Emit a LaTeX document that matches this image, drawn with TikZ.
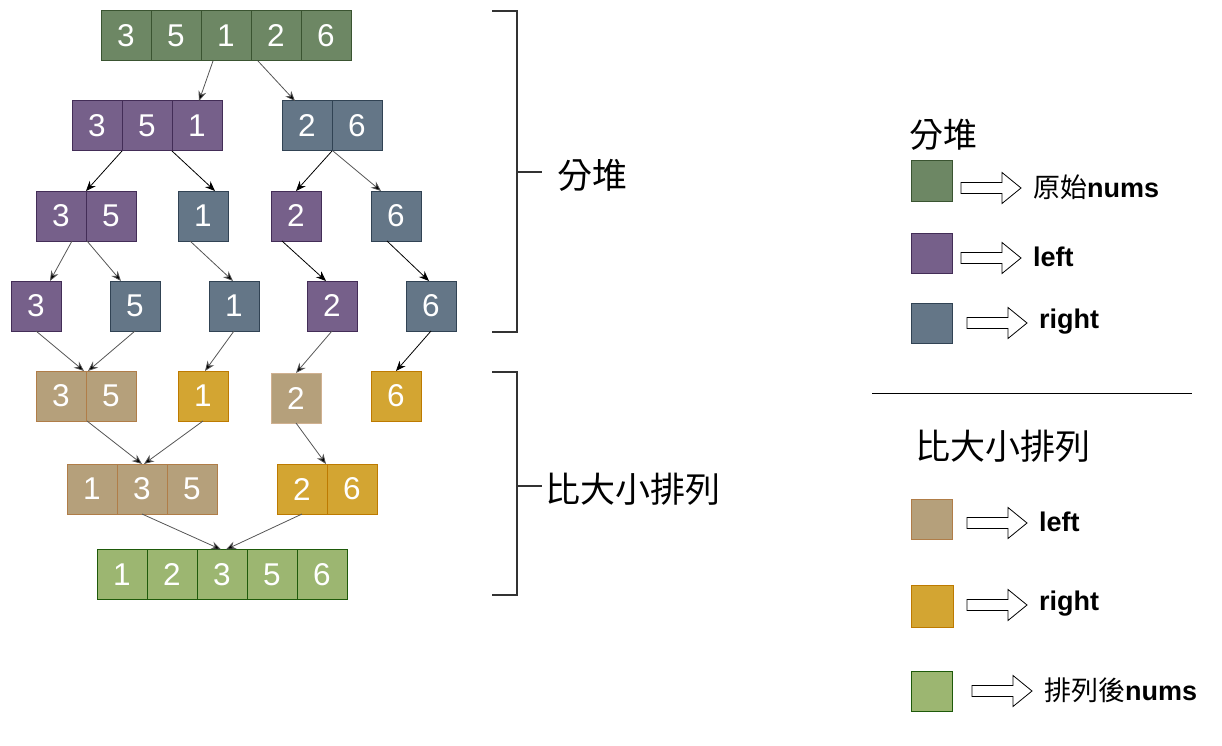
\documentclass[tikz,border=0pt]{standalone}
\usepackage{fontspec}
\setmainfont{Liberation Sans}
\newfontfamily\cjk{Noto Sans CJK TC}
\usetikzlibrary{arrows.meta}
\definecolor{ogF}{HTML}{6D8764}\definecolor{ogD}{HTML}{3A5431}
\definecolor{puF}{HTML}{76608A}\definecolor{puD}{HTML}{432D57}
\definecolor{blF}{HTML}{647687}\definecolor{blD}{HTML}{314354}
\definecolor{tnF}{HTML}{B5A07B}\definecolor{tnD}{HTML}{B07D48}
\definecolor{gdF}{HTML}{D3A532}\definecolor{gdD}{HTML}{BD7A00}
\definecolor{lgF}{HTML}{9CB671}\definecolor{lgD}{HTML}{1E5A0A}
\definecolor{lineG}{HTML}{555555}
\begin{document}
\begin{tikzpicture}[x=1pt,y=-1pt,
  cell/.style={draw, minimum size=50pt, inner sep=0pt, outer sep=0pt, line width=1pt, text=white, font=\fontsize{31.5}{31.5}\selectfont},
  og/.style={cell, fill=ogF, draw=ogD},
  pu/.style={cell, fill=puF, draw=puD},
  bl/.style={cell, fill=blF, draw=blD},
  tn/.style={cell, fill=tnF, draw=tnD},
  gd/.style={cell, fill=gdF, draw=gdD},
  lg/.style={cell, fill=lgF, draw=lgD},
  conn/.style={draw=lineG, line width=0.8pt, -{Stealth[length=10pt,width=8pt,fill=black]}},
  connk/.style={conn, draw=black},
  bracket/.style={draw=black!80, line width=1.5pt},
  big/.style={inner sep=0pt, anchor=west, font=\cjk\fontsize{35}{35}\selectfont},
  legsq/.style={draw, line width=1pt, minimum width=41pt, minimum height=40pt, inner sep=0pt},
  legtxt/.style={inner sep=0pt, anchor=west, font=\fontsize{27}{27}\selectfont\bfseries},
  hollow/.pic={\draw[line width=0.8pt, fill=white] (0,-5.5) -- (41,-5.5) -- (41,-15.5) -- (60,0) -- (41,15.5) -- (41,5.5) -- (0,5.5) -- cycle;}
]
\useasboundingbox (0,0) rectangle (1222,746);

% Row 1
\node[og] (r1c1) at (126,36) {3};
\node[og] (r1c2) at (176,36) {5};
\node[og] (r1c3) at (226,36) {1};
\node[og] (r1c4) at (276,36) {2};
\node[og] (r1c5) at (326,36) {6};
% Row 2
\node[pu] (r2a1) at (97,126) {3};
\node[pu] (r2a2) at (147,126) {5};
\node[pu] (r2a3) at (197,126) {1};
\node[bl] (r2b1) at (307,126) {2};
\node[bl] (r2b2) at (357,126) {6};
% Row 3
\node[pu] (r3a1) at (61,216) {3};
\node[pu] (r3a2) at (111,216) {5};
\node[bl] (r3b) at (203,216) {1};
\node[pu] (r3c) at (296,216) {2};
\node[bl] (r3d) at (396,216) {6};
% Row 4
\node[pu] (r4a) at (36,306) {3};
\node[bl] (r4b) at (135,306) {5};
\node[bl] (r4c) at (234,306) {1};
\node[pu] (r4d) at (332,306) {2};
\node[bl] (r4e) at (431,306) {6};
% Row 5
\node[tn] (r5a1) at (61,396) {3};
\node[tn] (r5a2) at (111,396) {5};
\node[gd] (r5b) at (203,396) {1};
\node[tn, draw=tnD!60] (r5c) at (296,398) {2};
\node[gd] (r5d) at (396,396) {6};
% Row 6
\node[tn] (r6a1) at (92,489) {1};
\node[tn] (r6a2) at (142,489) {3};
\node[tn] (r6a3) at (192,489) {5};
\node[gd] (r6b1) at (302,489) {2};
\node[gd] (r6b2) at (352,489) {6};
% Row 7
\node[lg] (r7c1) at (122,574.5) {1};
\node[lg] (r7c2) at (172,574.5) {2};
\node[lg] (r7c3) at (222,574.5) {3};
\node[lg] (r7c4) at (272,574.5) {5};
\node[lg] (r7c5) at (322,574.5) {6};

% connectors
\draw[conn] ([xshift=12pt]r1c3.south west) -- ([xshift=27pt]r2a3.north west);
\draw[conn] ([xshift=7pt]r1c4.south west) -- ([xshift=13pt]r2b1.north west);
\draw[connk] (r2a2.south west) -- (r3a1.north east);
\draw[connk] (r2a3.south west) -- ([xshift=37pt]r3b.north west);
\draw[connk] (r2b2.south west) -- ([xshift=25pt]r3c.north west);
\draw[conn] ([xshift=1pt]r2b2.south west) -- ([xshift=10pt]r3d.north west);
\draw[conn] ([xshift=36pt]r3a1.south west) -- ([xshift=39pt]r4a.north west);
\draw[conn] ([xshift=1pt]r3a2.south west) -- ([xshift=11pt]r4b.north west);
\draw[conn] ([xshift=12pt]r3b.south west) -- ([xshift=24pt]r4c.north west);
\draw[connk] ([xshift=11pt]r3c.south west) -- ([xshift=19pt]r4d.north west);
\draw[connk] ([xshift=16pt]r3d.south west) -- ([xshift=23pt]r4e.north west);
\draw[conn] (r4a.south) -- ([xshift=-2pt]r5a1.north east);
\draw[conn] (r4b.south) -- ([xshift=2pt]r5a2.north west);
\draw[conn] (r4c.south) -- ([xshift=27pt]r5b.north west);
\draw[conn] (r4d.south) -- (r5c.north);
\draw[connk] (r4e.south) -- (r5d.north);
\draw[conn] ([xshift=1pt]r5a2.south west) -- (r6a2.north);
\draw[conn] (r5b.south) -- ([xshift=27pt]r6a2.north west);
\draw[conn] (r5c.south) -- ([xshift=-1pt]r6b1.north east);
\draw[conn] (r6a2.south) -- ([xshift=24pt]r7c3.north west);
\draw[conn] (r6b1.south) -- ([xshift=29pt]r7c3.north west);

% brackets
\draw[bracket] (492,11) -- (517,11) -- (517,332) -- (492,332);
\coordinate (t1) at (517,172);
\node[big] (lab1) at (557,175) {分堆};
\draw[bracket] (t1) -- ([xshift=-15pt]lab1.west |- t1);
\draw[bracket] (492,372) -- (517,372) -- (517,595) -- (492,595);
\coordinate (t2) at (517,486);
\node[big] (lab2) at (545,489) {比大小排列};
\draw[bracket] (t2) -- ([xshift=-3pt]lab2.west |- t2);

% legend
\node[inner sep=0pt, anchor=west, font=\cjk\fontsize{34}{34}\selectfont] (lt1) at (909,135) {分堆};
\node[legsq, fill=ogF, draw=ogD] (s1) at (931.5,181) {};
\node[legsq, fill=puF, draw=puD] (s2) at (931.5,253) {};
\node[legsq, fill=blF, draw=blD] (s3) at (931.5,323) {};
\pic at (961,188) {hollow};
\pic at (961,258) {hollow};
\pic at (967,323) {hollow};
\node[legtxt] (x1) at (1033,187) {{\cjk\mdseries 原始}nums};
\node[legtxt] (x2) at (1033,257) {left};
\node[legtxt] (x3) at (1039,322) {right};

\draw[line width=1pt] (872,393) -- (1192,393);

\node[big] (lt2) at (915,446) {比大小排列};
\node[legsq, fill=tnF, draw=tnD] (s4) at (931.5,519) {};
\node[legsq, fill=gdF, draw=gdD, minimum width=42pt, minimum height=42pt] (s5) at (932,606) {};
\node[legsq, fill=lgF, draw=lgD] (s6) at (931.5,691.5) {};
\pic at (967,523) {hollow};
\pic at (967,605) {hollow};
\pic at (972,691) {hollow};
\node[legtxt] (x4) at (1039,522) {left};
\node[legtxt] (x5) at (1039,604) {right};
\node[legtxt] (x6) at (1044,690) {{\cjk\mdseries 排列後}nums};
\end{tikzpicture}
\end{document}
